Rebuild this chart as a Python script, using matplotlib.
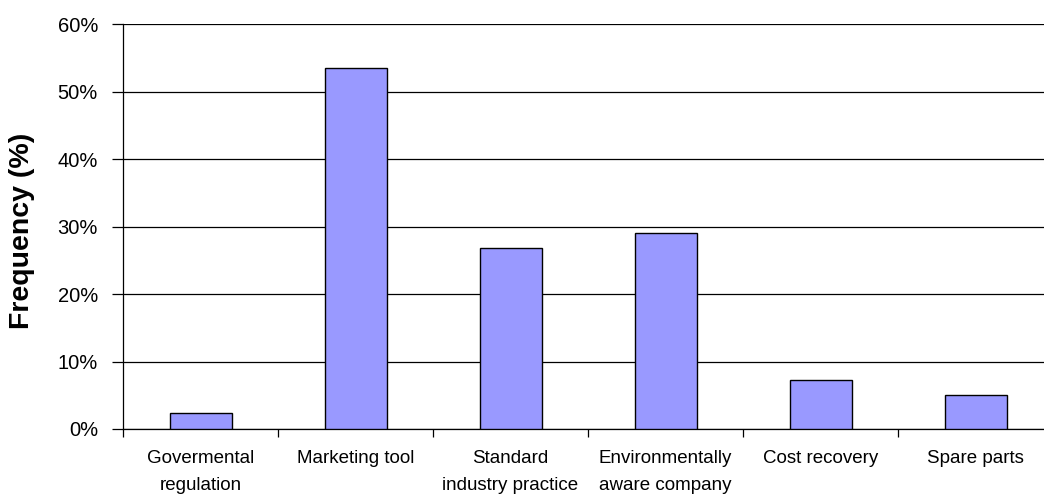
import matplotlib
matplotlib.use("Agg")
import matplotlib.pyplot as plt
from matplotlib.ticker import FuncFormatter

categories = [
    "Govermental\nregulation",
    "Marketing tool",
    "Standard\nindustry practice",
    "Environmentally\naware company",
    "Cost recovery",
    "Spare parts",
]
frequency = [2.3, 53.5, 26.8, 29.1, 7.3, 5.0]
y_ticks = [0, 10, 20, 30, 40, 50, 60]

plt.rcParams["font.family"] = ["Liberation Sans", "DejaVu Sans"]

fig = plt.figure(figsize=(10.44, 4.96), dpi=100)
W, H = 1044, 496
left, right, top, bottom = 123, 1053, 24.3, 429
ax = fig.add_axes([left / W, (H - bottom) / H, (right - left) / W, (bottom - top) / H])

x = list(range(len(categories)))
ax.bar(x, frequency, width=0.4, color="#9999FF", edgecolor="black", linewidth=1.0, zorder=3)

ax.set_xlim(-0.5, len(categories) - 0.5)
ax.set_ylim(0, 60)
ax.set_yticks(y_ticks)
ax.yaxis.set_major_formatter(FuncFormatter(lambda v, p: f"{v:.0f}%"))
ax.grid(axis="y", color="black", linewidth=0.9, zorder=0)
ax.set_axisbelow(True)

# category ticks sit on the boundaries between bars
ax.set_xticks([i - 0.5 for i in x] + [len(categories) - 0.5])
ax.set_xticklabels([])
ax.set_xticks(x, minor=True)
ax.set_xticklabels(categories, minor=True, fontsize=13.5, linespacing=1.75)
ax.tick_params(axis="x", which="minor", length=0, pad=15)
ax.tick_params(axis="x", which="major", length=6, width=0.9, direction="out")
ax.tick_params(axis="y", length=8, width=0.9, direction="out", pad=10, labelsize=14.5)

for side in ("top", "right"):
    ax.spines[side].set_visible(False)
for side in ("left", "bottom"):
    ax.spines[side].set_linewidth(0.9)

fig.text(22 / W, 1 - 231 / H, "Frequency (%)", rotation=90, fontsize=20.5,
         fontweight="bold", ha="center", va="center")

fig.savefig("out.png", dpi=100)
